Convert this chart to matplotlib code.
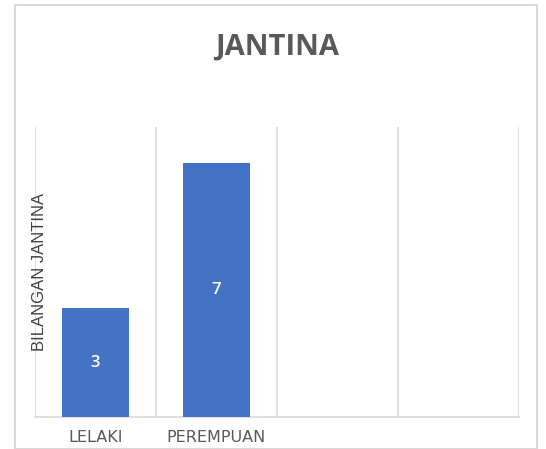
import matplotlib
matplotlib.use("Agg")
import matplotlib.pyplot as plt
from matplotlib.patches import Rectangle

title = "JANTINA"
ylabel = "BILANGAN JANTINA"
categories = ["LELAKI", "PEREMPUAN", "", ""]
values = [3, 7, None, None]

W, H = 546, 449
fig = plt.figure(figsize=(W / 100, H / 100), dpi=100)
fig.patch.set_facecolor("white")
fig.patches.append(Rectangle((15 / W, 0.5 / H), (537 - 15) / W, (444 - 0) / H,
                             transform=fig.transFigure, fill=False,
                             edgecolor="#d9d9d9", linewidth=1.5))

ax = fig.add_axes([35 / W, (H - 417) / H, (519 - 35) / W, (417 - 127) / H])
x = list(range(len(categories)))
bx = [i for i, v in zip(x, values) if v is not None]
bv = [v for v in values if v is not None]
bars = ax.bar(bx, bv, width=0.55, color="#4472c4", zorder=3)
for b, v in zip(bars, bv):
    ax.text(b.get_x() + b.get_width() / 2, v / 2, str(v), ha="center", va="center",
            color="white", fontsize=12, family="Open Sans", fontweight="semibold", zorder=4)

ax.set_xlim(-0.5, len(categories) - 0.5)
ax.set_ylim(0, 8)
ax.set_xticks(x)
ax.set_xticklabels(categories, family="DejaVu Sans", fontsize=11.5, color="#595959")
ax.tick_params(axis="x", length=0, pad=9)
ax.set_yticks([])
ax.set_xticks([i - 0.5 for i in range(len(categories) + 1)], minor=True)
ax.tick_params(axis="x", which="minor", length=0)
ax.grid(True, axis="x", which="minor", color="#d9d9d9", linewidth=1.2, zorder=0)
ax.grid(False, axis="x", which="major")
for s in ["top", "right", "left"]:
    ax.spines[s].set_visible(False)
ax.spines["bottom"].set_color("#d9d9d9")
ax.spines["bottom"].set_linewidth(1.2)

ax.set_ylabel(ylabel, family="Liberation Sans", fontsize=12, color="#404040", labelpad=-9)
fig.text(277 / W, 1 - 47 / H, title, ha="center", va="center", fontsize=21,
         fontweight="bold", family="Open Sans", color="#595959")

fig.savefig("out.png", dpi=100, facecolor="white")
